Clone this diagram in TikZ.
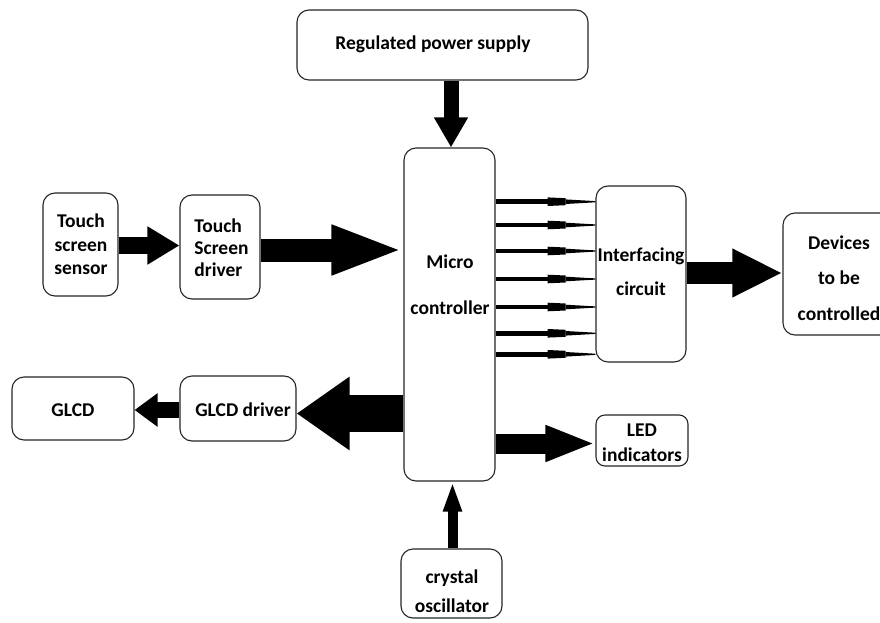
\documentclass[tikz,border=0pt]{standalone}
\usepackage{fontspec}
\setmainfont{Carlito}
\usetikzlibrary{arrows.meta,calc}
\tikzset{
  box/.style={draw=black!85, line width=1.1pt, rounded corners=12pt, inner sep=0pt, fill=white},
  txt/.style={font=\fontsize{19.5}{23}\selectfont\bfseries, inner sep=0pt, align=center},
  fat/.style n args={3}{line width=#1, -{Triangle[length=#2,width=#3]}},
}
\begin{document}
\begin{tikzpicture}[x=1pt,y=-1pt]
\useasboundingbox[fill=white] (0,0) rectangle (880,623);

% boxes
\node[box, minimum width=291pt, minimum height=70pt] (rps) at (442.5,45) {};
\node[box, minimum width=91pt, minimum height=333pt] (mc) at (449.5,314.5) {};
\node[box, minimum width=75pt, minimum height=103pt] (tss) at (80.5,244.5) {};
\node[box, minimum width=80pt, minimum height=104pt] (tsd) at (220,247) {};
\node[box, minimum width=90pt, minimum height=176pt] (ic) at (641,274) {};
\node[box, minimum width=117pt, minimum height=122pt] (dev) at (841.5,274) {};
\node[box, minimum width=122pt, minimum height=63pt] (glcd) at (73,408.5) {};
\node[box, minimum width=116pt, minimum height=65pt] (gd) at (238,408.5) {};
\node[box, rounded corners=9pt, minimum width=92pt, minimum height=51pt] (led) at (642,440.5) {};
\node[box, minimum width=101pt, minimum height=69pt] (xo) at (451.5,583.5) {};

% texts
\node[txt] (rpst) at (433,44) {Regulated power supply};
\node[txt] (mct) at (450,285) {Micro\\[23pt]controller};
\node[txt] (tsst) at (81,244.5) {Touch\\[0.5pt]screen\\[0.5pt]sensor};
\node[txt, align=left] (tsdt) at (221.5,248) {Touch\\[-1pt]Screen\\[-1pt]driver};
\node[txt] (ict) at (641,272) {Interfacing\\[11pt]circuit};
\node[txt] (devt) at (839,278) {Devices\\[12pt]to be\\[13pt]controlled};
\node[txt] (glcdt) at (73,410) {GLCD};
\node[txt] (gdt) at (243,410) {GLCD driver};
\node[txt] (ledt) at (642,442.5) {LED\\[2pt]indicators};
\node[txt] (xot) at (452,591.5) {crystal\\[6pt]oscillator};

% fat arrows
\draw[fat={15pt}{30pt}{32pt}] ($(rps.south -| mc.north)+(1.5,0)$) -- ($(mc.north)+(1.5,0)$);
\draw[fat={17pt}{32pt}{36pt}] ($(tss.east)+(0,1)$) -- ($(tss.east -| tsd.west)+(0,1)$);
\draw[fat={23pt}{72pt}{45pt}] ($(tsd.east)+(0,3)$) -- ($(tsd.east -| mc.west)+(0,3)$);
\draw[fat={22pt}{50pt}{45pt}] ($(ic.east)+(0,-1)$) -- ($(ic.east -| dev.west)+(0,-1)$);
\draw[fat={37pt}{53pt}{70pt}] ($(mc.west |- gd.east)+(0,5)$) -- ($(gd.east)+(0,5)$);
\draw[fat={16pt}{23pt}{32pt}] ($(gd.west)+(0,1.5)$) -- ($(gd.west -| glcd.east)+(0,1.5)$);
\draw[fat={20pt}{50pt}{33pt}] ($(mc.east |- led.west)+(0,3)$) -- ($(led.west)+(0,3)$);
\draw[fat={10pt}{30pt}{17pt}] ($(xo.north)+(1,0)$) -- ($(mc.south -| xo.north)+(1,0)$);

% interface wires
\foreach \yy [count=\i] in {201.7,225,251,279,307,333.3,354.3} {
  \coordinate (wA\i) at (mc.east |- 0,\yy);
  \coordinate (wB\i) at (ic.west |- 0,\yy);
  \fill ($(wA\i)+(0,-2.3)$) rectangle ($(wA\i)+(52,2.3)$);
  \fill ($(wA\i)+(52,-4.3)$) -- ($(wA\i)+(70,-3.5)$) -- ($(wA\i)+(70,3.5)$) -- ($(wA\i)+(52,4.3)$) -- cycle;
  \fill ($(wA\i)+(70,-2.3)$) -- ($(wB\i)+(0,-0.6)$) -- ($(wB\i)+(0,0.6)$) -- ($(wA\i)+(70,2.3)$) -- cycle;
}
\end{tikzpicture}
\end{document}
